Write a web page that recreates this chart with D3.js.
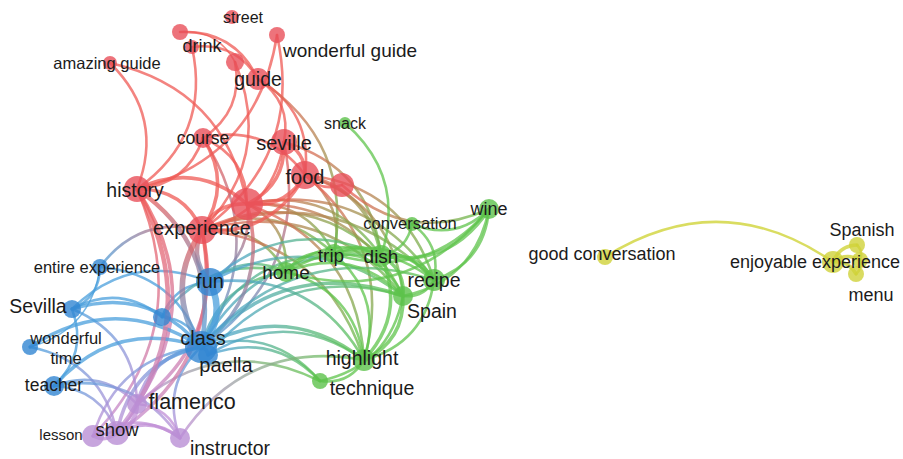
<!DOCTYPE html>
<html>
<head>
<meta charset="utf-8">
<script src="https://cdn.jsdelivr.net/npm/d3@7"></script>
<style>
  html, body { margin: 0; padding: 0; background: #fff; }
  svg { display: block; }
  text { font-family: "Liberation Sans", Arial, Helvetica, sans-serif; fill: #1b1b1b; }
</style>
</head>
<body>
<svg id="map" width="903" height="459"></svg>
<script>
// Term co-occurrence map: terms, cluster membership, map coordinates, occurrences.
// Terms with an empty string keep their circle but their label is suppressed.
const terms = [
  "street", "", "drink", "wonderful guide", "amazing guide", "", "guide", "course",
  "seville", "food", "", "history", "", "experience",
  "snack", "wine", "conversation", "trip", "dish", "home", "recipe", "Spain", "highlight", "technique",
  "entire experience", "fun", "Sevilla", "", "wonderful time", "class", "paella", "teacher",
  "flamenco", "show", "lesson", "instructor",
  "good conversation", "enjoyable experience", "Spanish", "", "menu"
];
// 1 = red, 2 = green, 3 = blue, 4 = yellow, 5 = purple
const clusters = [
  1, 1, 1, 1, 1, 1, 1, 1, 1, 1, 1, 1, 1, 1,
  2, 2, 2, 2, 2, 2, 2, 2, 2, 2,
  3, 3, 3, 3, 3, 3, 3, 3,
  5, 5, 5, 5,
  4, 4, 4, 4, 4
];
const mapX = [
  2.32, 1.80, 1.92, 2.77, 1.10, 2.35, 2.58, 2.03, 2.84, 3.05, 3.42, 1.37, 2.47, 2.02,
  3.45, 4.89, 4.12, 3.34, 3.81, 2.86, 4.34, 4.03, 3.64, 3.20,
  1.00, 2.10, 0.72, 1.62, 0.30, 2.01, 2.08, 0.54,
  1.37, 1.17, 0.93, 1.80,
  6.05, 8.33, 8.57, 8.60, 8.56
];
const mapY = [
  0.17, 0.32, 0.47, 0.35, 0.63, 0.62, 0.79, 1.38, 1.42, 1.75, 1.85, 1.89, 2.04, 2.30,
  1.23, 2.09, 2.24, 2.54, 2.56, 2.72, 2.80, 2.96, 3.60, 3.81,
  2.67, 2.82, 3.09, 3.17, 3.47, 3.47, 3.55, 3.86,
  4.04, 4.33, 4.36, 4.38,
  2.57, 2.62, 2.45, 2.60, 2.74
];
const occurrences = [
  19, 25, 19, 25, 19, 32, 47, 39, 66, 77, 56, 66, 100, 77,
  14, 39, 19, 39, 47, 39, 47, 39, 47, 25,
  25, 77, 32, 32, 25, 100, 39, 39,
  39, 56, 47, 39,
  25, 47, 25, 25, 25
];
// Links: [source term index, target term index, link strength]
const links = [
  [1, 6, 2], [1, 5, 1], [2, 6, 2], [2, 11, 2], [3, 11, 2], [3, 13, 2],
  [5, 7, 2], [5, 13, 2], [4, 11, 2], [4, 12, 2],
  [6, 8, 2], [6, 9, 2], [6, 17, 2],
  [7, 11, 2], [7, 13, 3], [7, 12, 2], [7, 9, 2], [7, 29, 2],
  [8, 12, 3], [8, 13, 2], [8, 9, 3], [8, 29, 2], [8, 18, 2],
  [9, 12, 3], [9, 13, 3], [9, 18, 3], [9, 17, 2], [9, 20, 2], [9, 22, 2], [9, 21, 2],
  [10, 9, 2], [15, 10, 2],
  [11, 13, 3], [11, 12, 3], [11, 29, 4], [11, 33, 4], [11, 32, 3], [11, 34, 2],
  [13, 12, 3], [25, 13, 4], [29, 13, 5], [13, 32, 3], [13, 33, 3], [13, 19, 2], [13, 17, 2],
  [13, 18, 2], [13, 21, 2], [13, 20, 2], [13, 22, 2],
  [12, 29, 3], [12, 25, 2], [12, 17, 2], [12, 18, 2], [12, 20, 2], [12, 21, 2], [12, 22, 2], [12, 19, 2],
  [24, 26, 2], [24, 29, 2], [24, 13, 2], [24, 28, 1],
  [26, 29, 3], [26, 25, 2], [26, 27, 2], [26, 31, 2], [26, 32, 2],
  [28, 29, 3], [28, 33, 2],
  [31, 29, 3], [31, 32, 2], [31, 35, 2], [31, 33, 2],
  [27, 29, 2], [27, 25, 2], [27, 19, 2],
  [25, 29, 6], [29, 30, 3], [29, 19, 2], [29, 22, 3], [29, 18, 2], [29, 20, 2], [29, 21, 3], [29, 17, 2], [29, 23, 2],
  [25, 19, 2], [25, 18, 2], [25, 21, 2], [25, 22, 2],
  [30, 22, 2], [30, 21, 2], [30, 23, 2],
  [32, 33, 4], [32, 29, 3], [32, 35, 2], [32, 34, 2], [32, 23, 2],
  [33, 34, 3], [33, 35, 3], [33, 29, 3], [34, 29, 2], [34, 35, 2], [35, 29, 2], [35, 22, 2],
  [14, 18, 2],
  [15, 18, 3], [15, 17, 2], [15, 16, 2], [15, 20, 2], [15, 21, 2], [15, 19, 2],
  [16, 18, 2], [16, 20, 2],
  [17, 18, 3], [17, 20, 2], [17, 21, 2], [19, 17, 2], [17, 22, 2],
  [18, 20, 3], [18, 21, 3], [18, 22, 3], [19, 18, 2],
  [20, 21, 2], [20, 22, 2], [19, 21, 2], [19, 22, 2], [19, 20, 2],
  [21, 22, 3], [21, 23, 2], [22, 23, 2],
  [36, 37, 2], [37, 38, 3], [37, 40, 3], [37, 39, 3], [38, 39, 2], [39, 40, 2]
];

// ---- presentation ----
const clusterColor = {
  1: "#e8505a",
  2: "#5cc24b",
  3: "#3286d2",
  4: "#cfd23a",
  5: "#b98fd5"
};
const edgeColor = {
  1: "#ef5a55",
  2: "#5fc44c",
  3: "#4a9fdc",
  4: "#cdd12c",
  5: "#c08ed6"
};

// label placement relative to its circle: [dx, dy, font size]
const labelLayout = {
  "street": [11, 0, 16], "drink": [10, -1, 18], "wonderful guide": [73, 15, 19],
  "amazing guide": [-3, 0, 16.5], "guide": [0, 0, 19.5], "course": [0, 0, 17.5],
  "seville": [0, 1, 20], "food": [0, 2, 20], "history": [-2, 1, 19.5], "experience": [0, -2, 20],
  "snack": [0, 0, 16], "wine": [0, 0, 18], "conversation": [-2, -1, 16.5], "trip": [-3, 1, 19],
  "dish": [0, 0, 19], "home": [0, 0, 19], "recipe": [0, 0, 19.5], "Spain": [29, 15, 19.5],
  "highlight": [-2, -2, 19.5], "technique": [52, 7, 19.5], "entire experience": [-3, 0, 16.5],
  "fun": [0, -1, 20], "Sevilla": [-34, -3, 19.5], "wonderful time": [36, -9, 16.5],
  "class": [2, -9, 20], "paella": [18, 10, 20], "teacher": [0, -1, 17.5],
  "flamenco": [55, -3, 21.5], "show": [0, -3, 18.5], "lesson": [-32, -1, 15],
  "instructor": [50, 10, 19.5], "good conversation": [-3, -3, 18],
  "enjoyable experience": [-18, 0, 18], "Spanish": [5, -15, 18], "menu": [15, 21, 18]
};

const width = 903, height = 459;
const svg = d3.select("#map");

const x = d3.scaleLinear().domain([0, 9.03]).range([0, width]);
const y = d3.scaleLinear().domain([0, 4.59]).range([0, height]);
const radius = d3.scaleSqrt().domain([0, 100]).range([0, 16]);
const strokeW = d3.scaleLinear().domain([1, 6]).range([1.6, 6.5]);

const nodes = terms.map((t, i) => ({
  term: t, cluster: clusters[i],
  px: x(mapX[i]), py: y(mapY[i]), r: radius(occurrences[i])
}));

const defs = svg.append("defs");
const edges = links.map(([s, t, w], i) => ({ s: nodes[s], t: nodes[t], w, id: "lg" + i }))
  .sort((a, b) => a.w - b.w);

edges.forEach(e => {
  const g = defs.append("linearGradient")
    .attr("id", e.id)
    .attr("gradientUnits", "userSpaceOnUse")
    .attr("x1", e.s.px).attr("y1", e.s.py)
    .attr("x2", e.t.px).attr("y2", e.t.py);
  g.append("stop").attr("offset", "0%").attr("stop-color", edgeColor[e.s.cluster]);
  g.append("stop").attr("offset", "100%").attr("stop-color", edgeColor[e.t.cluster]);
});

// curved links: quadratic arc bending to one side of the source -> target direction
function arc(e) {
  const dx = e.t.px - e.s.px, dy = e.t.py - e.s.py;
  const k = 0.33;
  const cx = (e.s.px + e.t.px) / 2 + dy * k;
  const cy = (e.s.py + e.t.py) / 2 - dx * k;
  const p = d3.path();
  p.moveTo(e.s.px, e.s.py);
  p.quadraticCurveTo(cx, cy, e.t.px, e.t.py);
  return p.toString();
}

svg.append("g").attr("class", "links")
  .selectAll("path").data(edges).join("path")
  .attr("d", arc)
  .attr("fill", "none")
  .attr("stroke", e => `url(#${e.id})`)
  .attr("stroke-width", e => strokeW(e.w))
  .attr("stroke-linecap", "round")
  .attr("stroke-opacity", 0.75);

svg.append("g").attr("class", "nodes")
  .selectAll("circle").data(nodes).join("circle")
  .attr("cx", d => d.px).attr("cy", d => d.py).attr("r", d => d.r)
  .attr("fill", d => clusterColor[d.cluster])
  .attr("fill-opacity", 0.8);

const labelled = nodes.filter(d => d.term !== "");
const lab = svg.append("g").attr("class", "labels")
  .selectAll("text").data(labelled).join("text")
  .attr("text-anchor", "middle")
  .attr("x", d => d.px + labelLayout[d.term][0])
  .attr("y", d => d.py + labelLayout[d.term][1])
  .attr("font-size", d => labelLayout[d.term][2] + "px");

lab.each(function (d) {
  const words = d.term === "wonderful time" ? ["wonderful", "time"] : [d.term];
  const t = d3.select(this);
  words.forEach((w, i) => {
    t.append("tspan")
      .attr("x", d.px + labelLayout[d.term][0])
      .attr("dy", i === 0 ? "0.35em" : "1.2em")
      .text(w);
  });
});
</script>
</body>
</html>
